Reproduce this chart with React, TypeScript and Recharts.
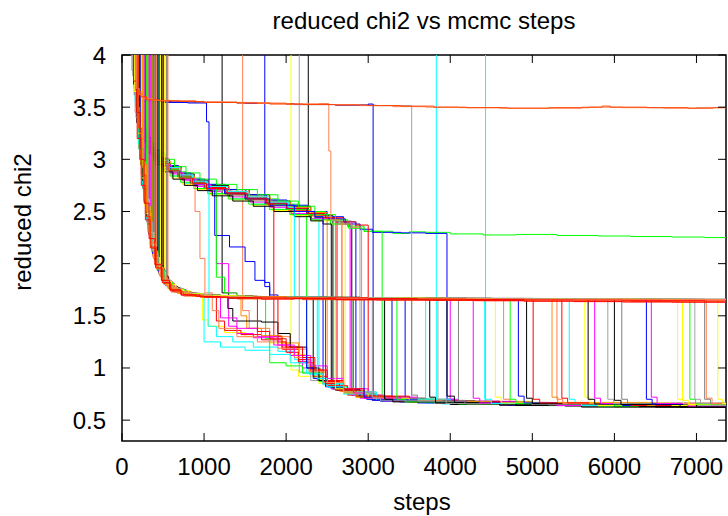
import React from 'react';
import { LineChart, Line, XAxis, YAxis, ReferenceArea } from 'recharts';

type Pt = [number, number];

const RED = '#ff0000', GREEN = '#00ff00', BLUE = '#0000ff', MAG = '#ff00ff', CYAN = '#00ffff', YEL = '#ffff00';
const BLK = '#000000', ORG = '#ff8c00', GRY = '#a0a0a0', DGRY = '#808080', ORED = '#ff4500', SAL = '#ff7f50';

const X_TICKS = [0, 1000, 2000, 3000, 4000, 5000, 6000, 7000];
const Y_TICKS = [0.5, 1, 1.5, 2, 2.5, 3, 3.5, 4];
const X_MAX = 7360;
const Y_MIN = 0.3;
const Y_MAX = 4;

// group A: fall to the 1.65 plateau and stay
const t01: Pt[] = [[0,10],[140,3.75],[185,3.2],[235,2.75],[285,2.42],[345,2.15],[410,1.96],[490,1.82],[590,1.74],[720,1.7],[900,1.685],[1200,1.675],[1600,1.68],[2000,1.67],[2500,1.672],[3000,1.665],[3600,1.66],[4200,1.657],[4900,1.652],[5500,1.65],[6100,1.648],[6600,1.645],[7100,1.642],[7360,1.64]];
const t02: Pt[] = [[0,9],[260,2.95],[300,2.5],[350,2.2],[410,1.98],[480,1.84],[560,1.76],[680,1.715],[850,1.69],[1100,1.68],[1500,1.67],[1900,1.675],[2400,1.668],[2900,1.665],[3400,1.668],[4000,1.66],[4700,1.658],[5300,1.655],[6000,1.657],[6600,1.653],[7360,1.652]];
const t03: Pt[] = [[0,12],[320,2.4],[370,2.12],[430,1.95],[500,1.83],[580,1.76],[700,1.72],[850,1.7],[1100,1.685],[1400,1.68],[1800,1.675],[2300,1.678],[2800,1.672],[3300,1.668],[3900,1.67],[4500,1.665],[5200,1.662],[5800,1.66],[6500,1.662],[7360,1.66]];
const t04: Pt[] = [[0,8],[200,3.3],[240,2.85],[290,2.45],[350,2.16],[420,1.95],[500,1.81],[600,1.73],[750,1.69],[1000,1.675],[1400,1.662],[1800,1.665],[2200,1.655],[2700,1.652],[3200,1.65],[3800,1.647],[4400,1.645],[5000,1.642],[5600,1.64],[6200,1.637],[6800,1.635],[7360,1.632]];
const t05: Pt[] = [[0,11],[420,2.0],[470,1.88],[540,1.79],[640,1.73],[800,1.7],[1000,1.685],[1300,1.675],[1700,1.672],[2100,1.668],[2600,1.665],[3100,1.662],[3800,1.66],[4400,1.66],[5000,1.657],[5600,1.658],[6200,1.655],[6800,1.656],[7360,1.655]];
const t06: Pt[] = [[0,9],[180,3.45],[220,3.0],[270,2.58],[330,2.24],[400,1.99],[480,1.84],[580,1.75],[720,1.7],[950,1.68],[1300,1.67],[1700,1.66],[2100,1.665],[2600,1.655],[3100,1.652],[3700,1.65],[4300,1.645],[4900,1.64],[5500,1.636],[6100,1.632],[6700,1.63],[7360,1.628]];

// group B: 1.65 plateau, late drop to the bottom
const t07: Pt[] = [[0,10],[230,3.05],[270,2.65],[320,2.32],[380,2.07],[450,1.9],[530,1.79],[640,1.73],[800,1.7],[1100,1.685],[1500,1.678],[2000,1.672],[2600,1.675],[3100,1.668],[3530,0.74],[3600,0.68],[4200,0.655],[5400,0.64],[7360,0.635]];
const t08: Pt[] = [[0,9],[380,2.15],[430,1.98],[500,1.85],[580,1.77],[700,1.72],[900,1.695],[1200,1.68],[1600,1.672],[2100,1.668],[2700,1.664],[3200,1.667],[3750,0.72],[3820,0.665],[4600,0.645],[6000,0.63],[7360,0.62]];
const t09: Pt[] = [[0,11],[120,3.85],[160,3.45],[200,3.1],[250,2.72],[300,2.4],[360,2.12],[430,1.93],[510,1.8],[620,1.73],[780,1.7],[1000,1.69],[1400,1.68],[1900,1.675],[2500,1.672],[3100,1.668],[3500,1.67],[3850,0.7],[3950,0.66],[5000,0.645],[7360,0.64]];
const t10: Pt[] = [[0,8],[480,1.9],[540,1.8],[620,1.74],[750,1.71],[950,1.69],[1300,1.675],[1800,1.668],[2300,1.662],[2900,1.665],[3500,1.66],[3960,0.73],[4050,0.67],[4800,0.64],[6500,0.625],[7360,0.62]];
const t11: Pt[] = [[0,10],[270,2.78],[310,2.42],[360,2.17],[420,1.98],[490,1.85],[570,1.77],[680,1.72],[850,1.695],[1100,1.68],[1600,1.675],[2200,1.67],[2800,1.672],[3400,1.666],[4100,0.69],[4180,0.66],[5200,0.645],[7360,0.635]];
const t12: Pt[] = [[0,9],[350,2.28],[400,2.06],[460,1.9],[540,1.8],[640,1.74],[800,1.705],[1000,1.69],[1300,1.68],[1800,1.672],[2400,1.666],[3000,1.662],[3600,1.665],[4280,0.71],[4360,0.665],[5300,0.64],[7360,0.63]];
const t13: Pt[] = [[0,12],[160,3.55],[200,3.15],[250,2.75],[300,2.42],[360,2.14],[430,1.94],[510,1.81],[620,1.74],[780,1.705],[1000,1.69],[1400,1.68],[1900,1.672],[2600,1.668],[3200,1.665],[3900,1.663],[4420,0.7],[4500,0.66],[5600,0.64],[7360,0.63]];
const t14: Pt[] = [[0,9],[520,1.85],[580,1.77],[680,1.72],[850,1.695],[1100,1.685],[1500,1.68],[1900,1.672],[2500,1.668],[3000,1.663],[3700,1.66],[4550,0.72],[4620,0.665],[5800,0.64],[7360,0.63]];
const t15: Pt[] = [[0,10],[300,2.55],[340,2.25],[400,2.03],[470,1.88],[550,1.79],[660,1.73],[820,1.7],[1100,1.69],[1500,1.685],[2000,1.68],[2500,1.675],[3000,1.672],[3500,1.668],[4100,1.665],[4730,0.7],[4800,0.66],[6000,0.635],[7360,0.625]];
const t16: Pt[] = [[0,8],[430,2.0],[480,1.88],[550,1.79],[650,1.73],[800,1.7],[1000,1.685],[1400,1.675],[1900,1.668],[2500,1.666],[3100,1.664],[3600,1.66],[4200,1.662],[4830,0.73],[4900,0.665],[6100,0.64],[7360,0.635]];
const t17: Pt[] = [[0,11],[210,3.2],[250,2.8],[300,2.45],[360,2.16],[430,1.96],[510,1.82],[610,1.75],[760,1.71],[950,1.69],[1300,1.68],[1800,1.675],[2300,1.678],[2900,1.67],[3500,1.668],[4200,1.662],[4930,0.71],[5000,0.66],[6300,0.63],[7360,0.62]];
const t18: Pt[] = [[0,9],[400,2.1],[450,1.95],[520,1.83],[610,1.76],[740,1.715],[950,1.69],[1300,1.682],[1800,1.675],[2400,1.67],[3000,1.665],[3600,1.668],[4300,1.662],[5010,0.7],[5090,0.665],[6200,0.64],[7360,0.63]];
const t19: Pt[] = [[0,10],[250,2.92],[290,2.55],[340,2.25],[400,2.03],[470,1.88],[550,1.79],[660,1.73],[820,1.7],[1100,1.685],[1600,1.678],[2200,1.672],[2800,1.668],[3500,1.665],[4200,1.66],[4800,1.662],[5240,0.72],[5310,0.67],[6400,0.64],[7360,0.635]];
const t20: Pt[] = [[0,9],[560,1.8],[620,1.75],[720,1.715],[900,1.695],[1200,1.685],[1600,1.675],[2100,1.67],[2700,1.668],[3300,1.664],[3900,1.662],[4600,1.66],[5300,0.7],[5370,0.66],[6600,0.64],[7360,0.635]];
const t21: Pt[] = [[0,12],[330,2.38],[380,2.12],[440,1.95],[510,1.83],[600,1.76],[720,1.72],[900,1.695],[1200,1.682],[1700,1.672],[2300,1.668],[3000,1.662],[3700,1.658],[4500,1.655],[5360,0.71],[5430,0.665],[6500,0.64],[7360,0.63]];
const t22: Pt[] = [[0,10],[190,3.35],[230,2.95],[280,2.55],[340,2.22],[410,1.98],[490,1.84],[590,1.76],[730,1.715],[950,1.695],[1300,1.685],[1800,1.675],[2500,1.67],[3200,1.667],[4000,1.662],[4800,1.66],[5640,0.72],[5700,0.665],[6700,0.64],[7360,0.635]];
const t23: Pt[] = [[0,9],[450,1.95],[510,1.83],[590,1.76],[710,1.715],[900,1.695],[1200,1.68],[1700,1.675],[2300,1.668],[3000,1.665],[3700,1.668],[4500,1.662],[5100,1.66],[5680,0.7],[5760,0.655],[6800,0.625],[7360,0.62]];
const t24: Pt[] = [[0,11],[280,2.7],[320,2.38],[380,2.1],[450,1.92],[530,1.81],[630,1.745],[780,1.71],[1000,1.692],[1400,1.68],[2000,1.675],[2600,1.67],[3300,1.665],[4000,1.662],[4800,1.66],[5760,0.71],[5830,0.66],[6900,0.635],[7360,0.63]];
const t25: Pt[] = [[0,10],[130,3.8],[170,3.4],[215,3.0],[265,2.62],[320,2.3],[385,2.05],[460,1.88],[550,1.78],[670,1.72],[850,1.7],[1100,1.688],[1500,1.68],[2000,1.678],[2600,1.674],[3300,1.67],[4100,1.667],[4900,1.665],[5920,0.7],[5990,0.66],[7000,0.64],[7360,0.64]];
const t26: Pt[] = [[0,9],[500,1.88],[560,1.79],[650,1.735],[800,1.7],[1000,1.685],[1400,1.676],[2000,1.668],[2700,1.664],[3400,1.662],[4100,1.66],[4800,1.658],[5400,1.66],[6000,0.69],[6080,0.65],[7000,0.625],[7360,0.615]];
const t27: Pt[] = [[0,12],[360,2.22],[410,2.02],[470,1.89],[550,1.79],[650,1.735],[800,1.705],[1000,1.69],[1400,1.682],[2000,1.676],[2700,1.672],[3400,1.668],[4200,1.665],[5100,1.662],[6090,0.7],[6160,0.66],[7360,0.645]];
const t28: Pt[] = [[0,10],[220,3.1],[260,2.72],[310,2.38],[370,2.1],[440,1.93],[520,1.81],[620,1.745],[780,1.705],[1000,1.69],[1400,1.68],[2000,1.672],[2800,1.668],[3600,1.664],[4400,1.662],[5300,1.66],[6390,0.7],[6460,0.655],[7360,0.63]];
const t29: Pt[] = [[0,9],[410,2.05],[460,1.92],[530,1.82],[620,1.755],[760,1.715],[950,1.695],[1300,1.685],[1900,1.675],[2600,1.67],[3300,1.666],[4200,1.664],[5200,1.662],[6450,0.72],[6520,0.66],[7360,0.64]];
const t30: Pt[] = [[0,11],[240,2.98],[280,2.62],[330,2.3],[390,2.06],[460,1.9],[540,1.8],[650,1.74],[810,1.705],[1050,1.69],[1500,1.68],[2100,1.673],[3000,1.668],[3900,1.663],[4800,1.66],[5800,1.662],[6770,0.7],[6840,0.655],[7360,0.64]];
const t31: Pt[] = [[0,9],[470,1.92],[530,1.82],[620,1.755],[760,1.715],[950,1.695],[1300,1.683],[1800,1.675],[2500,1.67],[3300,1.667],[4300,1.665],[5300,1.662],[6200,1.66],[6830,0.69],[6900,0.65],[7360,0.635]];
const t32: Pt[] = [[0,10],[170,3.5],[210,3.1],[260,2.7],[310,2.38],[370,2.12],[440,1.94],[520,1.82],[620,1.75],[770,1.71],[1000,1.69],[1400,1.682],[2000,1.676],[2900,1.67],[3900,1.665],[4900,1.662],[5900,1.66],[6920,0.7],[6990,0.655],[7360,0.64]];
const t33: Pt[] = [[0,12],[390,2.1],[440,1.96],[510,1.84],[600,1.765],[730,1.72],[920,1.695],[1250,1.686],[1700,1.68],[2400,1.675],[3300,1.67],[4200,1.667],[5100,1.665],[6100,1.662],[6980,0.7],[7050,0.66],[7360,0.65]];
const t34: Pt[] = [[0,9],[540,1.82],[600,1.76],[700,1.72],[860,1.698],[1100,1.688],[1600,1.68],[2200,1.675],[3000,1.67],[4000,1.667],[5000,1.664],[5800,1.662],[6500,1.66],[7100,0.7],[7170,0.655],[7360,0.645]];
const t35: Pt[] = [[0,10],[310,2.48],[350,2.2],[410,1.99],[480,1.86],[560,1.775],[670,1.725],[830,1.7],[1100,1.685],[1500,1.675],[2100,1.67],[3000,1.665],[3800,1.662],[4700,1.66],[5500,1.658],[6200,1.657],[7120,0.71],[7190,0.66],[7360,0.645]];
const t36: Pt[] = [[0,11],[150,3.65],[190,3.25],[240,2.82],[290,2.48],[350,2.18],[420,1.96],[500,1.83],[600,1.75],[750,1.71],[1000,1.692],[1400,1.682],[2000,1.675],[2800,1.67],[3700,1.665],[4600,1.662],[5500,1.66],[6300,1.658],[7260,0.7],[7320,0.66],[7360,0.655]];

// group C: 1.65 plateau, earlier drop
const t37: Pt[] = [[0,10],[290,2.62],[330,2.3],[390,2.06],[460,1.89],[540,1.79],[650,1.735],[800,1.7],[1100,1.69],[1500,1.68],[1900,1.676],[2250,1.0],[2330,0.9],[2480,0.82],[2700,0.76],[3000,0.7],[3600,0.67],[4600,0.645],[7360,0.625]];
const t38: Pt[] = [[0,9],[440,1.98],[490,1.87],[560,1.79],[660,1.735],[820,1.7],[1100,1.685],[1500,1.678],[1900,1.672],[2380,0.9],[2500,0.82],[2700,0.75],[3100,0.69],[3900,0.655],[5300,0.64],[7360,0.63]];
const t39: Pt[] = [[0,11],[180,3.42],[220,3.0],[270,2.6],[320,2.3],[380,2.06],[450,1.9],[530,1.8],[640,1.74],[800,1.705],[1100,1.69],[1500,1.682],[2000,1.675],[2480,0.85],[2600,0.79],[2850,0.73],[3300,0.68],[4300,0.65],[6000,0.63],[7360,0.625]];
const t40: Pt[] = [[0,9],[370,2.2],[420,2.0],[480,1.88],[560,1.79],[670,1.735],[850,1.7],[1100,1.688],[1600,1.68],[2100,1.675],[2600,0.8],[2700,0.76],[3000,0.71],[3500,0.675],[4500,0.65],[7360,0.635]];
const t41: Pt[] = [[0,10],[230,3.02],[270,2.65],[320,2.32],[380,2.07],[450,1.9],[530,1.8],[640,1.74],[800,1.705],[1100,1.69],[1600,1.682],[2100,1.678],[2700,0.77],[2850,0.72],[3200,0.69],[3900,0.66],[5500,0.64],[7360,0.635]];
const t42: Pt[] = [[0,12],[510,1.87],[570,1.78],[660,1.73],[820,1.7],[1100,1.688],[1500,1.68],[2000,1.676],[2400,1.67],[2820,0.76],[2950,0.71],[3400,0.68],[4200,0.655],[6000,0.635],[7360,0.63]];
const t43: Pt[] = [[0,9],[200,3.25],[240,2.86],[290,2.48],[350,2.18],[420,1.97],[500,1.83],[600,1.755],[750,1.712],[1000,1.692],[1400,1.684],[1900,1.678],[2400,1.672],[2950,0.72],[3050,0.69],[3600,0.665],[4700,0.645],[7360,0.625]];
const t44: Pt[] = [[0,10],[340,2.3],[390,2.06],[450,1.91],[530,1.8],[630,1.74],[780,1.705],[1000,1.69],[1500,1.682],[2000,1.676],[2500,1.672],[3050,0.71],[3150,0.685],[3800,0.66],[5000,0.645],[7360,0.64]];
const t45: Pt[] = [[0,11],[140,3.72],[180,3.35],[225,2.95],[275,2.58],[330,2.28],[395,2.04],[470,1.88],[560,1.78],[680,1.725],[850,1.7],[1100,1.688],[1600,1.68],[2100,1.675],[2600,1.672],[3200,0.7],[3300,0.675],[4000,0.65],[5600,0.625],[7360,0.615]];
const t46: Pt[] = [[0,9],[460,1.94],[520,1.83],[600,1.765],[720,1.72],[900,1.698],[1200,1.686],[1700,1.68],[2200,1.675],[2800,1.67],[3350,0.7],[3450,0.675],[4100,0.655],[5800,0.635],[7360,0.63]];

// group D: through the 1.3 band
const t47: Pt[] = [[0,10],[260,2.85],[300,2.5],[350,2.2],[410,1.99],[480,1.85],[560,1.77],[680,1.72],[850,1.695],[980,1.46],[1050,1.4],[1250,1.34],[1500,1.3],[1800,1.24],[2050,1.13],[2250,0.98],[2420,0.86],[2650,0.78],[2950,0.71],[3500,0.675],[4500,0.65],[6000,0.63],[7360,0.625]];
const t48: Pt[] = [[0,9],[400,2.05],[450,1.92],[520,1.82],[610,1.755],[760,1.71],[900,1.695],[1050,1.4],[1150,1.3],[1350,1.25],[1600,1.2],[1900,1.16],[2100,1.08],[2280,0.94],[2450,0.84],[2700,0.76],[3000,0.7],[3700,0.665],[5000,0.64],[7360,0.63]];
const t49: Pt[] = [[0,11],[150,3.62],[190,3.25],[235,2.85],[285,2.48],[345,2.18],[415,1.97],[500,1.83],[600,1.755],[750,1.712],[950,1.695],[1150,1.45],[1250,1.36],[1450,1.32],[1700,1.27],[1950,1.18],[2150,1.05],[2330,0.92],[2500,0.83],[2750,0.75],[3100,0.69],[3800,0.66],[5200,0.64],[7360,0.625]];
const t50: Pt[] = [[0,10],[330,2.35],[380,2.1],[440,1.94],[520,1.82],[620,1.75],[780,1.71],[1000,1.69],[1300,1.4],[1400,1.33],[1600,1.29],[1850,1.22],[2050,1.12],[2200,1.0],[2380,0.88],[2550,0.8],[2800,0.74],[3200,0.685],[4200,0.655],[6000,0.635],[7360,0.63]];
const t51: Pt[] = [[0,9],[490,1.88],[550,1.79],[640,1.74],[790,1.705],[1000,1.69],[1250,1.685],[1450,1.5],[1520,1.38],[1700,1.31],[1950,1.24],[2150,1.1],[2300,0.96],[2480,0.85],[2700,0.77],[3000,0.71],[3600,0.67],[4800,0.645],[7360,0.63]];
const t52: Pt[] = [[0,10],[210,3.15],[250,2.78],[300,2.42],[360,2.14],[430,1.95],[510,1.82],[610,1.75],[760,1.71],[1000,1.69],[1400,1.682],[1750,1.28],[1800,1.05],[2000,1.02],[2200,0.95],[2400,0.87],[2600,0.8],[2850,0.73],[3200,0.69],[4000,0.66],[5500,0.64],[7360,0.63]];
const t53: Pt[] = [[0,12],[370,2.18],[420,2.0],[480,1.87],[560,1.78],[670,1.73],[840,1.7],[1100,1.69],[1290,1.57],[1350,1.45],[1700,1.44],[1900,1.33],[2050,1.2],[2250,1.0],[2400,0.88],[2600,0.79],[2900,0.72],[3400,0.68],[4300,0.65],[7360,0.62]];
const t54: Pt[] = [[0,9],[550,1.8],[610,1.75],[710,1.715],[870,1.695],[1200,1.685],[1600,1.678],[1900,1.25],[2000,1.15],[2150,1.08],[2300,0.98],[2450,0.87],[2650,0.78],[2950,0.71],[3500,0.675],[4600,0.645],[7360,0.625]];
const t55: Pt[] = [[0,10],[280,2.68],[320,2.35],[380,2.08],[450,1.91],[530,1.81],[640,1.745],[800,1.71],[1000,1.692],[1100,1.55],[1180,1.38],[1400,1.3],[1650,1.25],[1900,1.19],[2100,1.1],[2280,0.97],[2450,0.86],[2700,0.77],[3050,0.7],[3700,0.67],[5200,0.645],[7360,0.635]];
const t90: Pt[] = [[0,10],[240,2.98],[280,2.6],[330,2.28],[390,2.05],[460,1.89],[540,1.79],[650,1.735],[800,1.7],[1000,1.688],[1200,1.48],[1400,1.38],[1650,1.3],[1900,1.22],[2100,1.12],[2300,1.02],[2500,0.9],[2700,0.8],[3000,0.72],[3600,0.68],[4800,0.65],[7360,0.63]];
const t91: Pt[] = [[0,9],[450,1.96],[500,1.85],[580,1.77],[700,1.72],[880,1.698],[1000,1.25],[1200,1.2],[1500,1.17],[1800,1.13],[2050,1.05],[2250,0.95],[2450,0.85],[2700,0.77],[3100,0.7],[4000,0.66],[7360,0.635]];
const t92: Pt[] = [[0,11],[320,2.42],[370,2.14],[430,1.96],[500,1.84],[590,1.765],[720,1.72],[900,1.698],[1200,1.688],[1650,1.35],[1800,1.28],[2000,1.2],[2200,1.1],[2350,0.98],[2500,0.88],[2700,0.8],[2950,0.73],[3500,0.68],[4600,0.65],[7360,0.625]];

// group E: the slow 2.5 band
const t56: Pt[] = [[0,10],[170,3.5],[210,3.35],[260,3.24],[330,3.1],[420,3.02],[520,2.96],[640,2.88],[780,2.82],[950,2.76],[1150,2.71],[1400,2.66],[1650,2.62],[1900,2.57],[2150,2.51],[2250,1.02],[2350,0.9],[2500,0.82],[2750,0.75],[3100,0.7],[3800,0.665],[5200,0.64],[7360,0.625]];
const t57: Pt[] = [[0,9],[230,3.3],[260,3.2],[320,3.08],[410,2.97],[510,2.9],[620,2.84],[760,2.77],[920,2.72],[1100,2.67],[1350,2.62],[1600,2.57],[1850,2.52],[2100,2.47],[2300,2.43],[2400,0.88],[2520,0.81],[2750,0.75],[3100,0.7],[3900,0.66],[5500,0.64],[7360,0.63]];
const t58: Pt[] = [[0,11],[190,3.45],[230,3.36],[290,3.2],[370,3.08],[470,3.0],[580,2.93],[720,2.86],[880,2.8],[1050,2.75],[1300,2.71],[1550,2.66],[1800,2.6],[2050,2.55],[2300,2.5],[2450,2.46],[2570,0.8],[2700,0.76],[3000,0.7],[3600,0.675],[4800,0.645],[7360,0.62]];
const t59: Pt[] = [[0,10],[280,3.18],[340,3.06],[440,2.97],[550,2.9],[680,2.83],[830,2.77],[1000,2.72],[1250,2.67],[1500,2.62],[1750,2.57],[2000,2.52],[2250,2.47],[2450,2.44],[2620,0.79],[2750,0.74],[3050,0.7],[3700,0.67],[5000,0.645],[7360,0.625]];
const t60: Pt[] = [[0,9],[300,3.07],[390,2.96],[490,2.89],[600,2.82],[740,2.76],[900,2.71],[1080,2.66],[1330,2.61],[1580,2.56],[1830,2.51],[2080,2.46],[2330,2.41],[2550,2.38],[2720,0.76],[2850,0.72],[3200,0.69],[4000,0.66],[5600,0.64],[7360,0.63]];
const t61: Pt[] = [[0,12],[180,4.3],[220,3.3],[280,3.16],[360,3.04],[460,2.96],[570,2.89],[700,2.82],[860,2.76],[1030,2.71],[1280,2.66],[1530,2.61],[1780,2.56],[2030,2.51],[2280,2.46],[2500,2.42],[2680,0.78],[2800,0.74],[3150,0.69],[3900,0.66],[5500,0.64],[7360,0.63]];
const t62: Pt[] = [[0,10],[245,3.28],[305,3.11],[385,3.0],[485,2.93],[595,2.86],[730,2.8],[890,2.74],[1060,2.69],[1200,2.72],[1310,2.64],[1560,2.59],[1810,2.54],[2060,2.48],[2310,2.43],[2600,2.38],[2780,0.75],[2900,0.71],[3300,0.685],[4100,0.66],[5700,0.64],[7360,0.63]];
const t63: Pt[] = [[0,11],[175,3.55],[215,3.38],[275,3.21],[350,3.09],[450,3.01],[560,2.94],[690,2.87],[840,2.81],[1010,2.76],[1260,2.71],[1510,2.66],[1760,2.61],[2010,2.56],[2260,2.5],[2500,2.45],[2700,2.4],[2850,0.73],[2980,0.7],[3500,0.675],[4400,0.65],[7360,0.625]];
const t64: Pt[] = [[0,9],[255,3.27],[315,3.11],[395,3.01],[495,2.94],[605,2.87],[745,2.81],[905,2.75],[1085,2.7],[1335,2.65],[1585,2.6],[1835,2.55],[2085,2.5],[2335,2.45],[2560,2.41],[2800,2.34],[2900,0.72],[3020,0.695],[3600,0.67],[4700,0.65],[7360,0.64]];
const t65: Pt[] = [[0,10],[225,3.32],[285,3.16],[365,3.04],[465,2.96],[575,2.89],[705,2.82],[865,2.77],[1035,2.72],[1285,2.67],[1535,2.62],[1785,2.57],[2035,2.52],[2285,2.47],[2530,2.42],[2750,2.36],[2950,2.31],[3300,2.29],[3500,2.305],[3700,2.3],[4000,2.285],[4400,2.275],[4800,2.28],[5300,2.27],[5800,2.265],[6200,2.26],[6700,2.255],[7100,2.25],[7360,2.25]];
const t66: Pt[] = [[0,12],[165,3.6],[210,3.33],[270,3.18],[345,3.06],[445,2.98],[555,2.91],[685,2.84],[835,2.78],[1005,2.73],[1255,2.68],[1505,2.63],[1755,2.58],[2005,2.53],[2255,2.48],[2500,2.43],[2720,2.38],[2900,2.33],[3050,2.3],[3400,2.295],[3700,2.29],[3960,0.7],[4050,0.665],[5000,0.645],[7360,0.63]];
const t67: Pt[] = [[0,9],[235,3.26],[295,3.1],[375,2.99],[475,2.91],[585,2.84],[715,2.78],[875,2.72],[1045,2.67],[1295,2.62],[1545,2.57],[1795,2.52],[2045,2.47],[2295,2.42],[2540,2.38],[2760,2.34],[2950,2.31],[3170,0.7],[3280,0.68],[3900,0.66],[5200,0.64],[7360,0.63]];
const t68: Pt[] = [[0,10],[205,3.4],[245,3.31],[305,3.15],[385,3.05],[485,2.98],[595,2.91],[725,2.84],[885,2.79],[1055,2.74],[1305,2.69],[1555,2.64],[1805,2.59],[2055,2.54],[2300,2.49],[2500,0.83],[2620,0.79],[2900,0.72],[3400,0.68],[4300,0.655],[7360,0.635]];
const t69: Pt[] = [[0,11],[170,3.6],[212,3.34],[272,3.18],[348,3.06],[448,2.98],[558,2.9],[688,2.84],[838,2.78],[1008,2.73],[1258,2.68],[1508,2.63],[1758,2.58],[2008,2.53],[2258,2.48],[2480,2.44],[2700,2.4],[2850,2.37],[3000,0.71],[3100,0.69],[3800,0.665],[5300,0.64],[7360,0.625]];
const t70: Pt[] = [[0,10],[240,3.3],[300,3.12],[380,3.02],[480,2.95],[590,2.88],[720,2.81],[880,2.76],[1050,2.71],[1130,2.27],[1310,2.16],[1500,2.02],[1620,1.84],[1740,1.78],[1800,1.68],[2500,1.67],[3290,0.7],[3380,0.675],[4200,0.655],[7360,0.635]];
const t71: Pt[] = [[0,9],[190,3.42],[230,3.3],[290,3.14],[370,3.03],[470,2.95],[580,2.88],[710,2.81],[850,2.77],[890,2.5],[950,2.05],[1010,1.72],[1100,1.68],[1500,1.67],[2600,1.665],[3800,1.66],[4650,0.7],[4730,0.66],[6000,0.64],[7360,0.635]];
const t72: Pt[] = [[0,11],[180,3.48],[220,3.31],[280,3.15],[360,3.04],[460,2.96],[570,2.89],[700,2.82],[860,2.77],[1050,2.72],[1060,1.7],[1200,1.675],[1900,1.668],[2800,1.665],[3700,0.7],[3780,0.665],[4800,0.645],[7360,0.635]];
const t73: Pt[] = [[0,10],[250,3.28],[310,3.12],[390,3.02],[490,2.94],[600,2.87],[740,2.81],[900,2.76],[1080,2.71],[1150,2.0],[1300,1.72],[1400,1.68],[2200,1.67],[3100,1.665],[4000,0.7],[4090,0.665],[5300,0.64],[7360,0.63]];
const t74: Pt[] = [[0,9],[215,3.32],[275,3.16],[355,3.05],[455,2.97],[565,2.9],[695,2.83],[845,2.77],[1015,2.72],[1150,1.87],[1250,1.72],[1400,1.68],[2000,1.67],[2800,0.76],[2920,0.72],[3400,0.685],[4300,0.655],[6000,0.635],[7360,0.625]];
const t93: Pt[] = [[0,10],[200,3.45],[260,3.28],[330,3.15],[420,3.06],[520,3.0],[640,2.93],[780,2.87],[950,2.81],[1150,2.76],[1400,2.71],[1650,2.66],[1900,2.6],[2150,2.55],[2350,2.5],[2480,2.47],[2600,0.8],[2720,0.76],[3000,0.7],[3700,0.67],[5000,0.645],[7360,0.625]];
const t94: Pt[] = [[0,9],[260,3.18],[320,3.06],[410,2.95],[510,2.88],[620,2.81],[760,2.75],[920,2.7],[1100,2.65],[1350,2.6],[1600,2.55],[1850,2.5],[2100,2.45],[2300,2.41],[2450,2.38],[2550,0.81],[2700,0.76],[3000,0.7],[3700,0.67],[5000,0.645],[7360,0.62]];
const t95: Pt[] = [[0,11],[220,3.36],[280,3.19],[360,3.07],[460,2.99],[570,2.92],[700,2.85],[860,2.79],[1030,2.74],[1280,2.69],[1530,2.64],[1780,2.59],[2030,2.54],[2100,1.68],[2300,1.668],[3000,1.665],[3700,1.66],[4420,1.662],[5450,0.7],[5520,0.66],[7360,0.64]];

// group F: the 3.5 plateau
const t75: Pt[] = [[0,10],[160,4.1],[190,3.65],[230,3.6],[300,3.57],[450,3.56],[700,3.555],[1000,3.545],[1400,3.54],[1800,3.53],[2200,3.525],[2600,3.52],[3000,3.515],[3400,3.51],[3800,3.5],[4200,3.495],[4700,3.49],[5200,3.495],[5700,3.5],[5850,3.51],[5950,3.5],[6400,3.495],[6900,3.49],[7200,3.495],[7360,3.49]];
const t76: Pt[] = [[0,9],[175,3.68],[210,3.62],[260,3.58],[380,3.565],[600,3.56],[900,3.55],[1250,3.545],[1650,3.535],[2050,3.53],[2450,3.525],[2900,3.515],[3300,3.505],[3700,3.5],[4100,3.495],[4600,3.49],[5100,3.49],[5600,3.5],[6100,3.495],[6600,3.49],[7000,3.495],[7360,3.5]];
const t77: Pt[] = [[0,9],[170,3.7],[220,3.58],[400,3.55],[800,3.545],[1400,3.535],[2000,3.525],[2600,3.52],[3100,3.515],[3530,0.7],[3620,0.67],[4500,0.65],[7360,0.64]];
const t78: Pt[] = [[0,11],[190,3.62],[260,3.57],[500,3.555],[900,3.545],[1500,3.535],[2100,3.525],[2600,3.52],[3000,3.53],[3060,0.71],[3150,0.68],[3900,0.66],[5200,0.64],[7360,0.63]];
const t79: Pt[] = [[0,10],[210,3.64],[270,3.58],[500,3.56],[900,3.55],[1400,3.54],[2000,3.53],[2400,3.535],[2520,3.08],[2545,2.42],[2650,2.38],[2800,2.35],[2920,0.72],[3050,0.69],[3800,0.66],[5000,0.64],[7360,0.63]];
const t80: Pt[] = [[0,9],[175,3.6],[230,3.56],[500,3.545],[800,3.54],[1030,3.36],[1060,2.72],[1250,2.67],[1500,2.62],[1800,2.56],[2100,2.5],[2350,2.45],[2450,0.85],[2600,0.79],[2900,0.72],[3500,0.68],[4600,0.65],[7360,0.63]];
const t81: Pt[] = [[0,10],[150,3.68],[210,3.64],[240,3.3],[280,3.16],[360,3.04],[460,2.96],[570,2.89],[700,2.82],[860,2.77],[1030,2.72],[1280,2.67],[1530,2.62],[1780,2.57],[1850,1.3],[1950,1.2],[2150,1.06],[2300,0.96],[2450,0.86],[2700,0.77],[3050,0.7],[3700,0.67],[5000,0.645],[7360,0.63]];

// group G: stuck above 4 for a long time
const t82: Pt[] = [[0,9],[500,6.5],[900,5.2],[1220,1.72],[1300,1.67],[2000,1.665],[2330,0.95],[2450,0.85],[2700,0.77],[3000,0.71],[3700,0.67],[5000,0.645],[7360,0.625]];
const t83: Pt[] = [[0,10],[600,6.0],[1100,5.0],[1470,1.55],[1550,1.38],[1800,1.3],[2050,1.18],[2250,1.0],[2420,0.87],[2700,0.77],[3100,0.7],[4000,0.665],[7360,0.635]];
const t84: Pt[] = [[0,11],[700,5.5],[1740,1.82],[1800,1.7],[1900,1.67],[2600,1.665],[3450,0.7],[3550,0.67],[4500,0.65],[7360,0.63]];
const t85: Pt[] = [[0,12],[800,5.8],[1500,4.6],[2060,0.98],[2150,0.92],[2400,0.85],[2650,0.78],[3000,0.71],[3600,0.68],[5000,0.65],[7360,0.635]];
const t86: Pt[] = [[0,9],[900,5.1],[2160,0.96],[2300,0.88],[2550,0.8],[2900,0.72],[3500,0.68],[4600,0.655],[7360,0.64]];
const t87: Pt[] = [[0,10],[1000,5.3],[2270,2.46],[2350,2.44],[2600,2.4],[2750,2.36],[2800,0.75],[3000,0.7],[3800,0.665],[5400,0.635],[7360,0.62]];
const t88: Pt[] = [[0,11],[1200,5.6],[2500,4.7],[3830,0.68],[3900,0.66],[4800,0.645],[7360,0.635]];
const t89: Pt[] = [[0,9],[1400,5.4],[3000,4.6],[4430,0.67],[4500,0.655],[5600,0.64],[7360,0.63]];

const traces: { c: string; d: Pt[] }[] = [
  { c: CYAN, d: t88 }, { c: CYAN, d: t89 }, { c: YEL, d: t85 }, { c: GRY, d: t86 }, { c: BLK, d: t87 },
  { c: BLK, d: t82 }, { c: SAL, d: t83 }, { c: BLUE, d: t84 },
  { c: GREEN, d: t56 }, { c: CYAN, d: t57 }, { c: BLK, d: t58 }, { c: RED, d: t59 }, { c: YEL, d: t60 },
  { c: ORED, d: t61 }, { c: MAG, d: t62 }, { c: BLUE, d: t63 }, { c: GRY, d: t64 }, { c: GREEN, d: t65 },
  { c: BLUE, d: t66 }, { c: GREEN, d: t67 }, { c: ORG, d: t68 }, { c: RED, d: t69 }, { c: BLUE, d: t70 },
  { c: SAL, d: t71 }, { c: CYAN, d: t72 }, { c: MAG, d: t73 }, { c: GREEN, d: t74 },
  { c: GREEN, d: t93 }, { c: BLK, d: t94 }, { c: CYAN, d: t95 },
  { c: GRY, d: t77 }, { c: BLUE, d: t78 }, { c: SAL, d: t79 }, { c: BLUE, d: t80 }, { c: RED, d: t81 },
  { c: YEL, d: t47 }, { c: CYAN, d: t48 }, { c: RED, d: t49 }, { c: MAG, d: t50 }, { c: ORG, d: t51 },
  { c: GREEN, d: t52 }, { c: BLK, d: t53 }, { c: RED, d: t54 }, { c: SAL, d: t55 },
  { c: MAG, d: t90 }, { c: CYAN, d: t91 }, { c: RED, d: t92 },
  { c: BLUE, d: t37 }, { c: CYAN, d: t38 }, { c: RED, d: t39 }, { c: YEL, d: t40 }, { c: ORG, d: t41 },
  { c: MAG, d: t42 }, { c: BLUE, d: t43 }, { c: GRY, d: t44 }, { c: BLK, d: t45 }, { c: GREEN, d: t46 },
  { c: DGRY, d: t07 }, { c: BLK, d: t08 }, { c: GRY, d: t09 }, { c: BLK, d: t10 }, { c: DGRY, d: t11 },
  { c: MAG, d: t12 }, { c: CYAN, d: t13 }, { c: YEL, d: t14 }, { c: GREEN, d: t15 }, { c: BLUE, d: t16 },
  { c: BLK, d: t17 }, { c: RED, d: t18 }, { c: ORG, d: t19 }, { c: SAL, d: t20 }, { c: RED, d: t21 },
  { c: YEL, d: t22 }, { c: BLK, d: t23 }, { c: MAG, d: t24 }, { c: GRY, d: t25 }, { c: BLK, d: t26 },
  { c: DGRY, d: t27 }, { c: BLUE, d: t28 }, { c: MAG, d: t29 }, { c: YEL, d: t30 }, { c: YEL, d: t31 },
  { c: GREEN, d: t32 }, { c: GRY, d: t33 }, { c: DGRY, d: t34 }, { c: SAL, d: t35 }, { c: YEL, d: t36 },
  { c: GRY, d: t03 }, { c: ORG, d: t02 }, { c: SAL, d: t05 }, { c: RED, d: t01 }, { c: ORED, d: t04 },
  { c: RED, d: t06 }, { c: SAL, d: t76 }, { c: ORED, d: t75 },
];

const W = 728, H = 516;
const PL = 122, PR = 726, PT = 55, PB = 441;
const FONT = '"Liberation Sans", Arial, Helvetica, sans-serif';
const FS = 24;

const XTick = (props: any) => {
  const { x, payload } = props;
  return (
    <g>
      <line x1={x} x2={x} y1={PB} y2={PB - 8} stroke="#000" strokeWidth={1} />
      <line x1={x} x2={x} y1={PT} y2={PT + 8} stroke="#000" strokeWidth={1} />
      <text x={x} y={475} textAnchor="middle" fontSize={FS} fontFamily={FONT} fill="#000">{payload.value}</text>
    </g>
  );
};

const YTick = (props: any) => {
  const { y, payload } = props;
  return (
    <g>
      <line x1={PL} x2={PL + 8} y1={y} y2={y} stroke="#000" strokeWidth={1} />
      <line x1={PR - 8} x2={PR} y1={y} y2={y} stroke="#000" strokeWidth={1} />
      <text x={106} y={y + 8.5} textAnchor="end" fontSize={FS} fontFamily={FONT} fill="#000">{payload.value}</text>
    </g>
  );
};

export default function App() {
  return (
    <div style={{ position: 'absolute', left: 0, top: 0, width: W, height: H, background: '#fff' }}>
      <LineChart width={W} height={H} margin={{ top: PT, right: W - PR, bottom: 0, left: 0 }}>
        <XAxis
          type="number"
          dataKey="x"
          domain={[0, X_MAX]}
          allowDataOverflow
          ticks={X_TICKS}
          height={H - PB}
          axisLine={false}
          tickLine={false}
          tick={<XTick />}
          interval={0}
        />
        <YAxis
          type="number"
          dataKey="y"
          domain={[Y_MIN, Y_MAX]}
          allowDataOverflow
          ticks={Y_TICKS}
          width={PL}
          axisLine={false}
          tickLine={false}
          tick={<YTick />}
          interval={0}
        />
        {traces.map((t, i) => (
          <Line
            key={i}
            data={t.d.map(([x, y]) => ({ x, y }))}
            dataKey="y"
            type="stepAfter"
            stroke={t.c}
            strokeWidth={1}
            dot={false}
            activeDot={false}
            isAnimationActive={false}
          />
        ))}
        <ReferenceArea x1={0} x2={X_MAX} y1={Y_MIN} y2={Y_MAX} fill="none" stroke="#000" strokeWidth={1.5} />
      </LineChart>
      <svg width={W} height={H} style={{ position: 'absolute', left: 0, top: 0, pointerEvents: 'none' }}>
        <text x={424} y={29} textAnchor="middle" fontSize={FS} fontFamily={FONT} fill="#000">reduced chi2 vs mcmc steps</text>
        <text x={422} y={510} textAnchor="middle" fontSize={FS} fontFamily={FONT} fill="#000">steps</text>
        <text x={31} y={222} textAnchor="middle" fontSize={FS} fontFamily={FONT} fill="#000" transform="rotate(-90 31 222)">reduced chi2</text>
      </svg>
    </div>
  );
}
